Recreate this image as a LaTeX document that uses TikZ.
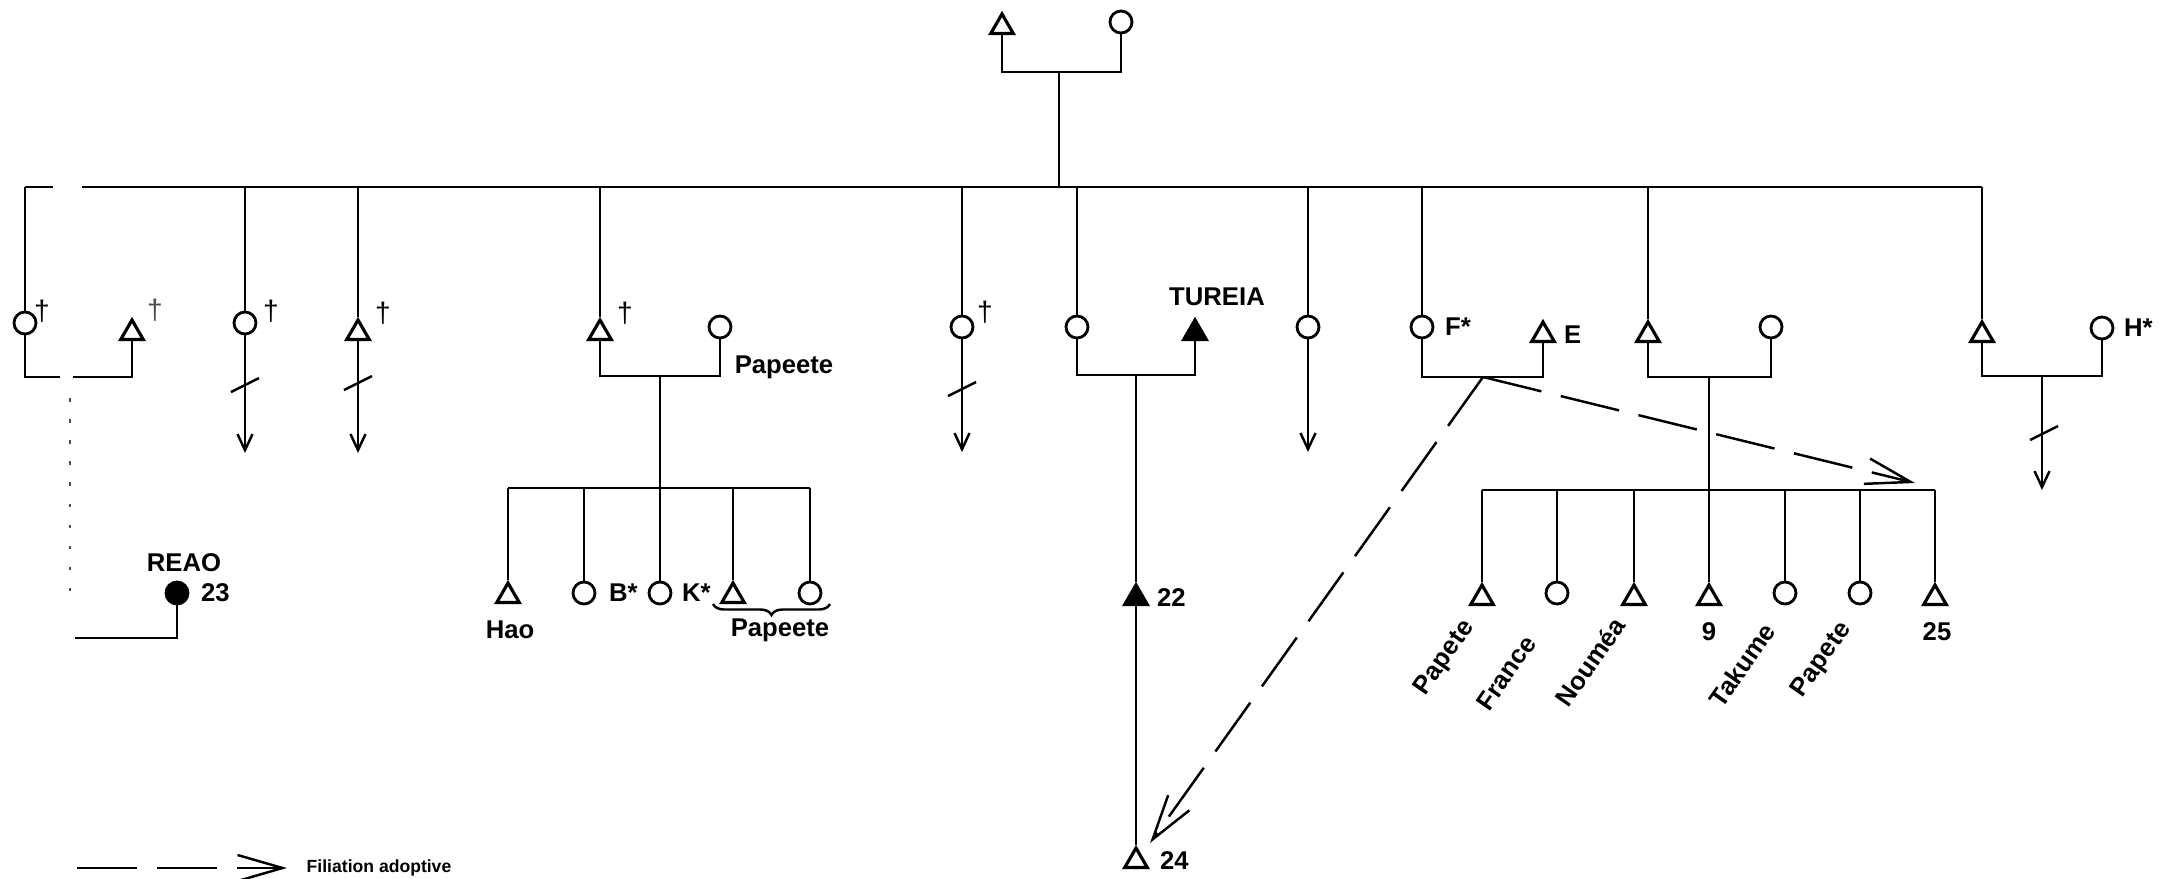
\documentclass[tikz,border=0pt]{standalone}
\usepackage{fontspec}
\setmainfont{Liberation Sans}
\usepackage{tikz}
\usetikzlibrary{arrows.meta,calc,positioning,shapes.geometric,decorations.pathreplacing}
\tikzset{
  kin/.style={line width=0.7pt, draw=black},
  faint/.style={line width=0.6pt, draw=black!70, dash pattern=on 1pt off 5pt},
  man/.style={regular polygon, regular polygon sides=3, draw, line width=0.9pt,
    fill=white, minimum size=2.6mm, inner sep=0pt},
  woman/.style={circle, draw, line width=0.8pt, fill=white,
    minimum size=2.2mm, inner sep=0pt},
  descent/.style={kin, -{Straight Barb[length=1.6mm,width=1.5mm]}},
  adopt/.style={line width=0.7pt, dash pattern=on 6mm off 2mm,
    -{Straight Barb[length=4.5mm,width=2.6mm]}},
  loc/.style={font=\fontsize{7.3}{8}\selectfont\bfseries, inner sep=0pt},
  dag/.style={font=\fontsize{8}{9}\selectfont, inner sep=0pt},
  tiny label/.style={font=\fontsize{5}{6}\selectfont\bfseries, inner sep=0pt}
}

\begin{document}
\begin{tikzpicture}[x=0.01cm, y=-0.01cm]
  \useasboundingbox (0,0) rectangle (2160,878);
  % first couple
  \node[man] (gpa) at (1002,27) {};
  \node[woman] (gma) at (1121,22) {};
  \coordinate (cpl0) at (1059,72);
  \draw[kin] (gpa) |- (cpl0) -| (gma);
  % sibling bar
  \coordinate (barL) at (25,187);
  \coordinate (gap0a) at (53,187);
  \coordinate (gap0b) at (82,187);
  \coordinate (barR) at (1982,187);
  \draw[kin] (cpl0) -- (cpl0 |- barL);
  \draw[kin] (barL) -- (gap0a);
  \draw[kin] (gap0b) -- (barR);

  % children and spouses
  \node[woman] (c1) at (25,323) {};
  \node[man] (m1) at (132,333) {};
  \node[woman] (c2) at (245,323) {};
  \node[man] (c3) at (358,333) {};
  \node[man] (c4) at (600,333) {};
  \node[woman] (w4) at (720,327) {};
  \node[woman] (c5) at (962,327) {};
  \node[woman] (c6) at (1077,327) {};
  \node[man, fill=black] (t6) at (1195,333) {};
  \node[woman] (c7) at (1308,327) {};
  \node[woman] (c8) at (1422,327) {};
  \node[man] (e8) at (1543,335) {};
  \node[man] (c9) at (1648,335) {};
  \node[woman] (w9) at (1771,327) {};
  \node[man] (c10) at (1982,335) {};
  \node[woman] (h10) at (2102,328) {};
  \draw[kin] (barL) -- (c1);
  \foreach \n in {c2,c3,c4,c5,c6,c7,c8,c9}
    \draw[kin] (\n |- barL) -- (\n);
  \draw[kin] (barR) -- (c10);

  % deceased
  \node[dag] (d1) at (42,311) {†};
  \node[dag, text=black!70] (dm1) at (155,310) {†};
  \node[dag] (d2) at (271,311) {†};
  \node[dag] (d3) at (383,313) {†};
  \node[dag] (d4) at (625,313) {†};
  \node[dag] (d5) at (985,312) {†};

  % lines going on
  \coordinate (end2) at (245,453);
  \coordinate (end3) at (358,453);
  \coordinate (end5) at (962,452);
  \coordinate (end7) at (1308,452);
  \foreach \n in {2,3,5,7}
    \draw[descent] (c\n) -- (end\n);
  \foreach \x/\y in {245/385, 358/383, 962/389, 2044/433}
    \draw[kin] (\x-14,\y+7) -- (\x+14,\y-7);

  % Reao
  \coordinate (gap1a) at (60,377);
  \coordinate (gap1b) at (73,377);
  \draw[kin] (c1) |- (gap1a);
  \draw[kin] (gap1b) -| (m1);
  \coordinate (dot1) at (70,398);
  \coordinate (dot2) at (70,600);
  \draw[faint] (dot1) -- (dot2);
  \node[woman, fill=black] (reao) at (177,593) {};
  \coordinate (reaoL) at (75,638);
  \draw[kin] (reaoL) -| (reao);
  \node[loc] (reaotxt) at (184,563) {REAO};
  \node[loc, right=1.1mm of reao] (n23) {23};

  % Papeete family
  \coordinate (cpl4) at (660,376);
  \draw[kin] (c4) |- (cpl4) -| (w4);
  \node[loc] (pap4) at (784,367) {Papeete};
  \coordinate (sib4L) at (508,488);
  \coordinate (sib4R) at (810,488);
  \draw[kin] (sib4L) -- (sib4R);
  \node[man] (k1) at (508,596) {};
  \node[woman] (k2) at (584,593) {};
  \node[woman] (k3) at (660,593) {};
  \node[man] (k4) at (733,596) {};
  \node[woman] (k5) at (810,593) {};
  \draw[kin] (cpl4) -- (k3);
  \foreach \n in {k1,k2,k4,k5}
    \draw[kin] (\n |- sib4L) -- (\n);
  \node[loc] (hao) at (510,630) {Hao};
  \node[loc, right=1.2mm of k2] (kb) {B*};
  \node[loc, right=0.9mm of k3] (kk) {K*};
  \coordinate (br1) at (713,604);
  \coordinate (br2) at (830,604);
  \draw[kin, decorate, decoration={brace, mirror, amplitude=1.1mm}] (br1) -- (br2);
  \node[loc] (pap5) at (780,630) {Papeete};

  % Tureia
  \coordinate (cpl6) at (1136,375);
  \draw[kin] (c6) |- (cpl6) -| (t6);
  \node[loc] (tureia) at (1217,297) {TUREIA};
  \node[man, fill=black] (t22) at (1136,598) {};
  \node[man] (t24) at (1136,861) {};
  \draw[kin] (cpl6) -- (t22);
  \draw[kin] (t22) -- (t24);
  \node[loc, right=1.1mm of t22] (n22) {22};
  \node[loc, right=1.4mm of t24] (n24) {24};

  % adoptive couple
  \coordinate (cpl8) at (1483,377);
  \draw[kin] (c8) |- (cpl8) -| (e8);
  \node[loc, right=1mm of c8] (f8) {F*};
  \node[loc, right=1.1mm of e8] (e8txt) {E};
  \coordinate (adoptA) at (1150,843);
  \coordinate (adoptB) at (1915,483);
  \draw[adopt] (cpl8) -- (adoptA);
  \draw[adopt] (cpl8) -- (adoptB);

  % couple 9 and children
  \coordinate (cpl9) at (1709,377);
  \draw[kin] (c9) |- (cpl9) -| (w9);
  \coordinate (sib9L) at (1482,490);
  \coordinate (sib9R) at (1935,490);
  \draw[kin] (sib9L) -- (sib9R);
  \node[man] (g1) at (1482,598) {};
  \node[woman] (g2) at (1557,593) {};
  \node[man] (g3) at (1634,598) {};
  \node[man] (g4) at (1709,598) {};
  \node[woman] (g5) at (1785,593) {};
  \node[woman] (g6) at (1860,593) {};
  \node[man] (g7) at (1935,598) {};
  \draw[kin] (cpl9) -- (g4);
  \foreach \n in {g1,g2,g3,g5,g6,g7}
    \draw[kin] (\n |- sib9L) -- (\n);
  \node[loc, rotate=55] (lg1) at (1445,658) {Papete};
  \node[loc, rotate=55] (lg2) at (1506,673) {France};
  \node[loc, rotate=55] (lg3) at (1590,662) {Nouméa};
  \node[loc] (lg4) at (1709,632) {9};
  \node[loc, rotate=55] (lg5) at (1742,665) {Takume};
  \node[loc, rotate=55] (lg6) at (1822,660) {Papete};
  \node[loc] (lg7) at (1937,632) {25};

  % last couple
  \coordinate (cpl10) at (2042,376);
  \draw[kin] (c10) |- (cpl10) -| (h10);
  \coordinate (end10) at (2042,490);
  \draw[descent] (cpl10) -- (end10);
  \node[loc, right=0.9mm of h10] (h10txt) {H*};

  % legend
  \coordinate (legA) at (77,868);
  \coordinate (legB) at (287,868);
  \draw[adopt] (legA) -- (legB);
  \node[tiny label, right=1.9mm of legB] (legtxt) {Filiation adoptive};
\end{tikzpicture}
\end{document}
